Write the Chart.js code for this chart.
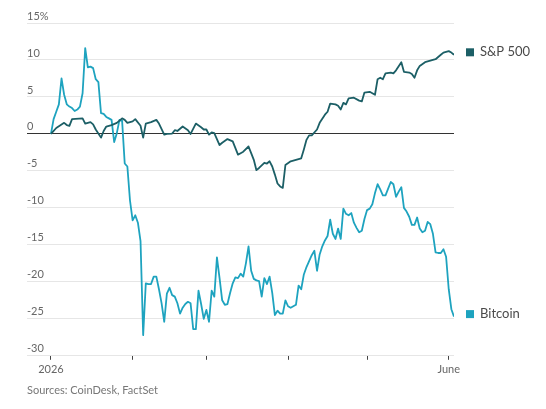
<!DOCTYPE html>
<html>
<head>
<meta charset="utf-8">
<script src="https://cdn.jsdelivr.net/npm/chart.js@4/dist/chart.umd.min.js"></script>
<style>
  html, body { margin: 0; padding: 0; background: #fff; }
  #wrap { width: 546px; height: 409px; position: relative; }
</style>
</head>
<body>
<div id="wrap"><canvas id="c"></canvas></div>
<script>
// Days since Jan 1, 2026 (day 0 = start), percent change
const seriesNames = ["S&P 500", "Bitcoin"];
const spxDays = [0,2,5,6,7,8,12,13,15,16,17,19,20,21,23,25,27,28,29,31,32,34,35,36,38,40,41,43,44,46,47,48,50,52,53,55,57,58,59,60,61,62,64,65,67,69,71,72,73,75,76,77,78,79,81,82,83,84,85,86,87,88,89,91,93,95,96,97,98,99,101,102,104,105,106,108,109,110,111,112,113,115,117,118,119,121,123,124,125,126,127,129,130,131,133,134,136,137,138,139,140,142,144,146,148,149,151,152,153];
const spxValues = [0,0.8,1.5,1.2,1.1,2,2.1,1.4,1.6,1.3,0.6,-0.5,0.4,1,1.2,1.5,2.1,1.9,1.5,1.7,2,1.1,-0.5,1.4,1.6,1.9,1.4,-0.1,0,0.05,0.5,0.4,1,0.5,0,1.4,0.9,0.6,0.6,-0.1,0.2,0.1,-1.5,-1.2,-0.7,-1,-2.8,-2.6,-2.4,-1.7,-2.6,-3.5,-4.9,-4.6,-3.9,-4,-3.7,-4.4,-5.5,-6.7,-7.1,-7.3,-4.2,-3.7,-3.5,-3.3,-2.1,-0.8,-0.2,-0.2,0.6,1.5,2.6,3,4.1,4,3.8,3.3,4.2,4,4.8,4.9,4.5,4.4,5.6,5.7,5.3,7.4,7.6,7.4,8.2,8.3,8.2,8.6,9.7,8.4,8.3,8.1,7.6,8.6,9.2,9.7,9.9,10.1,10.7,11,11.2,11,10.7];
const btcValues = [0,2,3,4,7.5,5.3,4,3.7,3.5,3.1,3.3,3.7,5.5,11.6,9,9.1,8.9,7.4,7,2.8,2.7,2.3,2.1,1.9,-1.1,0.1,1.9,1.8,-4,-4.4,-9,-11.7,-11,-12,-14.5,-27.2,-20.2,-20.3,-20.3,-19.3,-19.3,-21,-22.9,-25.4,-21.6,-20.8,-21.8,-22,-22.9,-24.3,-23.5,-23,-22.7,-22.9,-26.4,-26.4,-21.2,-23,-25,-23.8,-25.4,-21.2,-22,-16.7,-19.5,-22.5,-23.1,-23,-21.5,-20.2,-19.4,-19.5,-18.9,-19.3,-17.5,-15.2,-18.5,-19.6,-19.8,-19.9,-22,-19.5,-20.3,-19.3,-21.5,-24.5,-23.9,-24.3,-24.3,-22.5,-23.3,-23.5,-23.3,-23.1,-20.5,-21,-19,-18,-17.2,-16.4,-15.8,-18.5,-16.3,-15.2,-14.4,-13.8,-11.6,-13.5,-14.2,-12.8,-14.2,-10.1,-10.8,-11,-10.7,-12,-12.7,-13.3,-13.1,-11.5,-10.3,-10.1,-9.5,-8,-6.8,-7.5,-8.3,-8.3,-7.4,-6.5,-6.8,-8.5,-7.8,-7.2,-10,-10.5,-11.2,-12.3,-12.3,-11.3,-12.8,-13.3,-13.1,-11.9,-12.2,-13.5,-16,-16.1,-16.1,-15.6,-16.6,-21,-23.7,-24.7];
const btcDays = btcValues.map((_, i) => i);
const xTickDays = [0, 31, 59, 90, 120, 151];
const xTickLabels = ["2026", "", "", "", "", "June"];
const yTicks = [-30, -25, -20, -15, -10, -5, 0, 5, 10, 15];
const sourceText = "Sources: CoinDesk, FactSet";

const colors = ["#1c5f66", "#1ea3bf"];
const FONT = "Lato, 'Noto Sans', sans-serif";

const endLabels = {
  id: 'endLabels',
  afterDatasetsDraw(chart) {
    const ctx = chart.ctx;
    const yS = chart.scales.y;
    const area = chart.chartArea;
    ctx.save();
    chart.data.datasets.forEach((ds, i) => {
      const last = ds.data[ds.data.length - 1];
      const y = yS.getPixelForValue(last.y) - 2.5;
      ctx.fillStyle = colors[i];
      ctx.fillRect(area.right + 12, y - 4, 8, 8);
      ctx.fillStyle = '#4a4a4a';
      ctx.font = "13px " + FONT;
      ctx.textBaseline = 'middle';
      ctx.textAlign = 'left';
      ctx.fillText(ds.label, area.right + 26, y);
    });
    ctx.fillStyle = '#777';
    ctx.font = "11px " + FONT;
    ctx.textBaseline = 'middle';
    ctx.fillText(sourceText, area.left, 390);
    ctx.restore();
  }
};

new Chart(document.getElementById('c'), {
  type: 'line',
  data: {
    datasets: [
      { label: seriesNames[0], data: spxDays.map((d, i) => ({ x: d, y: spxValues[i] })), borderColor: colors[0] },
      { label: seriesNames[1], data: btcDays.map((d, i) => ({ x: d, y: btcValues[i] })), borderColor: colors[1] }
    ]
  },
  options: {
    responsive: true,
    maintainAspectRatio: false,
    animation: false,
    devicePixelRatio: 1,
    elements: {
      point: { radius: 0 },
      line: { borderWidth: 1.8, tension: 0, borderJoinStyle: 'round' }
    },
    layout: { padding: { left: 27, right: 92, top: 23, bottom: 30 } },
    plugins: { legend: { display: false }, tooltip: { enabled: false } },
    scales: {
      x: {
        type: 'linear',
        min: -9.1,
        max: 153,
        afterBuildTicks(axis) { axis.ticks = xTickDays.map(v => ({ value: v })); },
        grid: { drawOnChartArea: false, drawTicks: true, tickLength: 4, color: '#444', lineWidth: 1 },
        border: { display: false },
        ticks: {
          autoSkip: false,
          maxRotation: 0,
          padding: 3,
          color: '#666',
          font: { family: FONT, size: 11 },
          callback(v) { const i = xTickDays.indexOf(v); return i >= 0 ? xTickLabels[i] : ''; }
        }
      },
      y: {
        min: -30,
        max: 15,
        afterBuildTicks(axis) { axis.ticks = yTicks.map(v => ({ value: v })); },
        grid: {
          drawTicks: false,
          color: (c) => c.tick && c.tick.value === 0 ? '#333' : '#e6e6e6',
          lineWidth: 1
        },
        border: { display: false },
        ticks: {
          mirror: true,
          padding: 0,
          labelOffset: -7,
          color: '#666',
          font: { family: FONT, size: 11 },
          callback(v) { return v === 15 ? '15%' : String(v); }
        }
      }
    }
  },
  plugins: [endLabels]
});
</script>
</body>
</html>
